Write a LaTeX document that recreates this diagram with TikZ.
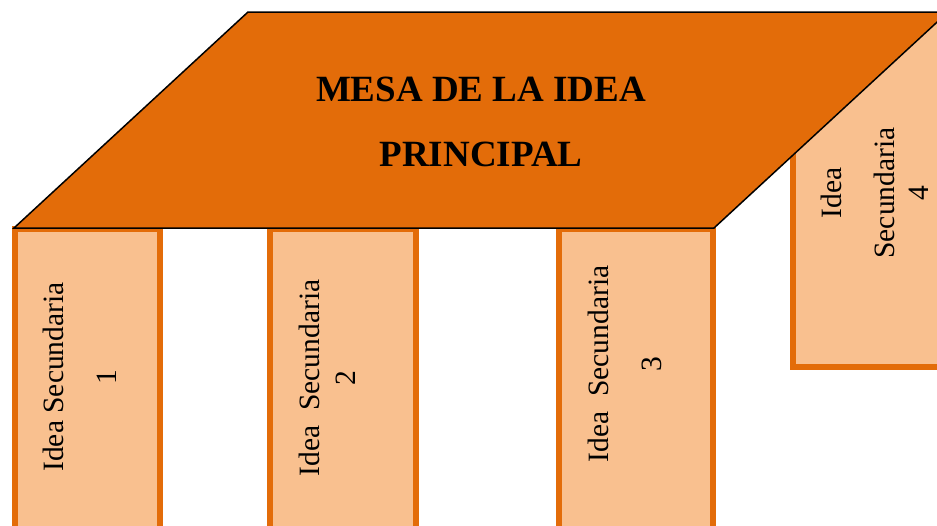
\documentclass[tikz,border=0pt]{standalone}
\usepackage{fontspec}
\setmainfont{Liberation Serif}
\definecolor{mesaorange}{HTML}{E36C09}
\definecolor{legfill}{HTML}{F9C08F}

\begin{document}
\begin{tikzpicture}[x=1pt,y=-1pt,
    leg/.style={fill=legfill,draw=mesaorange,line width=6pt},
    mesa/.style={fill=mesaorange,draw=black,line width=1.5pt},
    legtext/.style={rotate=90,align=center,font=\fontsize{29.5}{53}\selectfont}]
    \useasboundingbox (0,0) rectangle (937,525);
    \clip (0,0) rectangle (937,525);
    % legs, back one first
    \filldraw[leg] (793,16) rectangle (960,367);
    \filldraw[leg] (15,229) rectangle (160,540);
    \filldraw[leg] (270,229) rectangle (416,540);
    \filldraw[leg] (559,229) rectangle (713,540);
    % table top
    \filldraw[mesa] (14,228) -- (714,228) -- (948,12) -- (248,12) -- cycle;
    \node[align=center,font=\fontsize{37}{65}\selectfont\bfseries] (mesa) at (481,122)
        {MESA DE LA IDEA\\PRINCIPAL};
    \node[legtext] (idea1) at (80,377) {Idea Secundaria\\1};
    \node[legtext] (idea2) at (327,378) {Idea\ \ Secundaria\\[-17pt]2};
    \node[legtext] (idea3) at (625,364) {Idea\ \ Secundaria\\3};
    \node[legtext] (idea4) at (875,193) {Idea\\Secundaria\\[-19pt]4};
\end{tikzpicture}
\end{document}
